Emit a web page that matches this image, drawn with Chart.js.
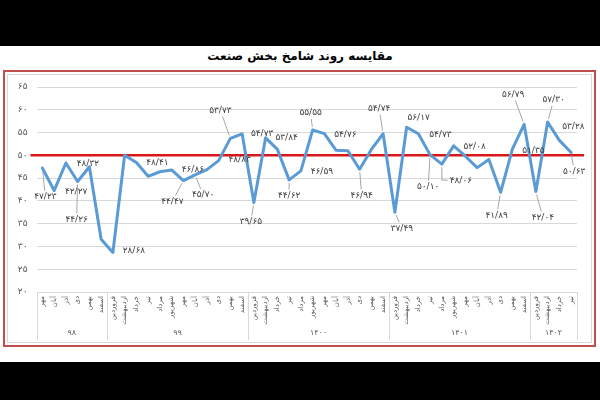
<!DOCTYPE html>
<html><head><meta charset="utf-8">
<script src="https://cdn.jsdelivr.net/npm/chart.js@4"></script>
<style>
html,body{margin:0;padding:0;width:600px;height:400px;background:#000;overflow:hidden}
#band{position:absolute;left:0;top:46px;width:600px;height:316px;background:#fff}
#title{position:absolute;left:0;top:49px;width:600px;text-align:center;font:bold 12px "DejaVu Sans";color:#000;direction:rtl}
#box{position:absolute;left:3px;top:70px;width:589px;height:273px;border:2px solid #c0504d}
#inner{position:absolute;left:7px;top:74px;width:583px;height:267px;border:1px solid #d9d9d9}
#wrap{position:absolute;left:0;top:0;width:600px;height:400px}
</style></head>
<body>
<div id="band"></div>
<div id="title">مقایسه روند شامخ بخش صنعت</div>
<div id="box"></div><div id="inner"></div>
<div id="wrap"><canvas id="c" width="600" height="400"></canvas></div>
<script>
// ---- data ----
const yearNames = ['۹۸', '۹۹', '۱۴۰۰', '۱۴۰۱', '۱۴۰۲'];
const yearMonthCounts = [6, 12, 12, 12, 4];
const fullYear = ['فروردین','اردیبهشت','خرداد','تیر','مرداد','شهریور','مهر','آبان','آذر','دی','بهمن','اسفند'];
const months = [
  'مهر','آبان','آذر','دی','بهمن','اسفند',
  ...fullYear, ...fullYear, ...fullYear,
  'فروردین','اردیبهشت','خرداد','تیر'
];
const values = [
  47.23, 42.27, 48.32, 44.26, 47.5, 31.6,
  28.68, 50.0, 48.41, 45.4, 46.4, 46.8, 44.47, 45.70, 46.86, 48.83, 53.73, 54.73,
  39.65, 53.84, 51.3, 44.62, 46.59, 55.55, 54.76, 51.1, 51.0, 46.94, 51.3, 54.74,
  37.49, 56.17, 54.73, 50.10, 48.06, 52.08, 49.8, 47.3, 49.1, 41.89, 51.35, 56.79,
  42.04, 57.30, 53.28, 50.63
];
const labelled = [
  1,1,1,1,0,0,
  1,0,1,0,0,0,1,1,1,1,1,1,
  1,1,0,1,1,1,1,0,0,1,0,1,
  1,1,1,1,1,1,0,0,0,1,1,1,
  1,1,1,1
];
const yTicks = [20, 25, 30, 35, 40, 45, 50, 55, 60, 65];
const threshold = 50;

// label placement (offset from point, leader line flag)
const labelPos = [
  [3,29,1],[22,1,0],[22,1,0],[-1,38,1],null,null,
  [21,-2,0],null,[21,0,0],null,null,null,[-11,21,1],[8,20,1],[-14,0,0],[21,-1,0],[-10,-28,1],[20,0,0],
  [-3,19,1],[21,0,0],null,[0,16,1],[21,1,0],[-2,-17,1],[21,1,0],null,null,[2,26,1],null,[-4,-25,1],
  [7,16,1],[12,-10,0],[22,1,0],[-2,32,1],[19,16,2],[21,1,0],null,null,null,[-4,23,1],[21,1,0],[-11,-30,1],
  [7,26,1],[6,-22,1],[14,-14,0],[3,19,1]
];

const faDigits = '۰۱۲۳۴۵۶۷۸۹';
const toFa = s => String(s).replace(/\d/g, d => faDigits[d]).replace('.', '/');
const FONT = '"DejaVu Sans", sans-serif';

const thresholdPlugin = {
  id: 'threshold',
  beforeDatasetsDraw(chart) {
    const {ctx, chartArea, scales} = chart;
    const y = scales.y.getPixelForValue(threshold);
    ctx.save();
    ctx.strokeStyle = '#d81818';
    ctx.lineWidth = 2.5;
    ctx.beginPath();
    ctx.moveTo(chartArea.left - 6, y);
    ctx.lineTo(chartArea.right + 7, y);
    ctx.stroke();
    ctx.restore();
  }
};

const xAxisPlugin = {
  id: 'xaxis',
  afterDraw(chart) {
    const {ctx, chartArea, scales} = chart;
    const x = scales.x;
    const step = x.getPixelForValue(1) - x.getPixelForValue(0);
    const top = chartArea.bottom;
    ctx.save();
    ctx.strokeStyle = '#d9d9d9';
    ctx.lineWidth = 1;
    let idx = 0;
    const bounds = [0];
    yearMonthCounts.forEach(c => { idx += c; bounds.push(idx); });
    bounds.forEach(b => {
      const px = Math.round(x.getPixelForValue(b) - step / 2) + 0.5;
      ctx.beginPath(); ctx.moveTo(px, top); ctx.lineTo(px, top + 48); ctx.stroke();
    });
    // month labels
    ctx.fillStyle = '#595959';
    ctx.font = '7px ' + FONT;
    months.forEach((m, i) => {
      const px = x.getPixelForValue(i);
      ctx.save();
      ctx.translate(px, top + 4);
      ctx.rotate(-Math.PI / 2);
      ctx.textAlign = 'right';
      ctx.textBaseline = 'middle';
      ctx.fillText(m, 0, 0);
      ctx.restore();
    });
    // year labels
    ctx.font = '8px ' + FONT;
    ctx.textAlign = 'center';
    ctx.textBaseline = 'middle';
    yearNames.forEach((yn, g) => {
      const a = x.getPixelForValue(bounds[g]) - step / 2;
      const b = x.getPixelForValue(bounds[g + 1]) - step / 2;
      ctx.fillText(yn, (a + b) / 2, top + 41);
    });
    ctx.restore();
  }
};

const labelPlugin = {
  id: 'pointLabels',
  afterDatasetsDraw(chart) {
    const {ctx} = chart;
    const meta = chart.getDatasetMeta(0);
    ctx.save();
    ctx.font = '9px ' + FONT;
    ctx.textAlign = 'center';
    ctx.textBaseline = 'middle';
    meta.data.forEach((pt, i) => {
      if (!labelled[i] || !labelPos[i]) return;
      const [dx, dy, lead] = labelPos[i];
      const txt = toFa(values[i].toFixed(2));
      const cx = pt.x + dx, cy = pt.y + dy;
      const w = ctx.measureText(txt).width;
      if (lead) {
        ctx.strokeStyle = '#a6a6a6';
        ctx.lineWidth = 1;
        ctx.beginPath();
        if (lead === 2) {
          ctx.moveTo(pt.x, pt.y + 3);
          ctx.lineTo(pt.x, cy);
          ctx.lineTo(cx - w / 2 - 2, cy);
        } else {
          const vx = pt.x - cx, vy = pt.y - cy;
          const hw = w / 2 + 2, hh = 6;
          const t = Math.min(Math.abs(vx) > 0.01 ? hw / Math.abs(vx) : 99, Math.abs(vy) > 0.01 ? hh / Math.abs(vy) : 99);
          const ex = cx + vx * t, ey = cy + vy * t;
          const len = Math.hypot(vx, vy);
          const sx = pt.x - vx / len * 3, sy = pt.y - vy / len * 3;
          ctx.moveTo(sx, sy);
          ctx.lineTo(ex, ey);
        }
        ctx.stroke();
      }
      ctx.fillStyle = '#404040';
      ctx.fillText(txt, cx, cy);
    });
    ctx.restore();
  }
};

new Chart(document.getElementById('c'), {
  type: 'line',
  data: {
    labels: months,
    datasets: [{
      data: values,
      borderColor: '#5b9bd5',
      borderWidth: 3,
      pointRadius: 0,
      tension: 0,
      borderJoinStyle: 'round',
      borderCapStyle: 'round'
    }]
  },
  options: {
    responsive: false,
    animation: false,
    layout: {padding: {left: 0, right: 23, top: 87, bottom: 108}},
    plugins: {legend: {display: false}, tooltip: {enabled: false}, title: {display: false}},
    scales: {
      x: {type: 'category', offset: true, display: false},
      y: {
        min: 20, max: 65,
        afterBuildTicks: s => { s.ticks = yTicks.map(v => ({value: v})); },
        afterFit: s => { s.width = 36.5; },
        ticks: {callback: v => toFa(v), font: {size: 9, family: FONT}, color: '#595959', padding: 9},
        grid: {color: '#d9d9d9', drawTicks: false},
        border: {display: false}
      }
    }
  },
  plugins: [thresholdPlugin, xAxisPlugin, labelPlugin]
});
</script>
</body></html>
